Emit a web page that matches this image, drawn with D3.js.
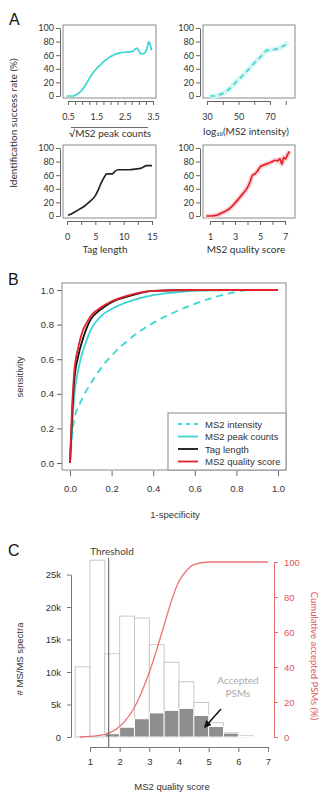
<!DOCTYPE html>
<html>
<head>
<meta charset="utf-8">
<script src="https://cdn.jsdelivr.net/npm/d3@7"></script>
<style>
  html, body { margin: 0; padding: 0; background: #fff; }
  svg { display: block; }
</style>
</head>
<body>
<div id="chart"></div>
<script>
// ---------- Panel A data ----------
const peakX = [0.45, 0.7, 0.8, 0.9, 1.0, 1.1, 1.2, 1.3, 1.4, 1.5, 1.6, 1.7, 1.8, 1.9, 2.0, 2.1, 2.2, 2.3, 2.4, 2.5, 2.6, 2.7, 2.8, 2.85, 2.9, 2.95, 3.0, 3.05, 3.1, 3.2, 3.25, 3.3, 3.35, 3.4, 3.45];
const peakY = [0, 0, 2, 5, 9, 15, 22, 29, 35, 40, 44, 48, 52, 55, 58, 60, 62, 63, 64, 64, 65, 65, 66, 68, 70, 70, 66, 63, 62, 63, 66, 72, 80, 75, 67];

const intensityX = [32, 35, 38, 41, 44, 47, 50, 53, 56, 59, 62, 65, 68, 71, 74, 76, 78, 80, 81];
const intensityY = [0, 0, 2, 5, 10, 17, 24, 31, 38, 46, 53, 60, 67, 68, 69, 70, 73, 76, 80];

const tagX = [0.2, 1, 2, 3, 4, 5, 5.5, 6, 6.5, 7, 7.5, 8, 8.5, 9, 10, 11, 12, 13, 13.5, 14, 15];
const tagY = [1, 4, 9, 14, 21, 30, 38, 48, 56, 62, 62, 62, 66, 68, 68, 68, 69, 70, 72, 74, 74];

const qualityX = [0.7, 1, 1.5, 2, 2.5, 3, 3.5, 4, 4.2, 4.4, 4.6, 4.8, 5, 5.3, 5.6, 6, 6.2, 6.4, 6.6, 6.75, 6.9, 7.05, 7.2, 7.35];
const qualityY = [0, 0, 1, 5, 10, 19, 30, 42, 50, 60, 62, 66, 72, 75, 77, 80, 82, 81, 84, 76, 86, 84, 90, 95];

const rateTicks = [0, 20, 40, 60, 80, 100];
const peakTicks = [0.5, 0.75, 1, 1.25, 1.5, 1.75, 2, 2.25, 2.5, 2.75, 3, 3.25, 3.5];
const peakLabels = [0.5, 1.5, 2.5, 3.5];
const intensityTicks = [30, 40, 50, 60, 70, 80];
const intensityLabels = [30, 50, 70];
const tagTicks = [0, 2.5, 5, 7.5, 10, 12.5, 15];
const tagLabels = [0, 5, 10, 15];
const qualityTicks = [1, 2, 3, 4, 5, 6, 7];
const qualityLabels = [1, 3, 5, 7];

// ---------- Panel B data (ROC) ----------
const rocNames = ['MS2 intensity', 'MS2 peak counts', 'Tag length', 'MS2 quality score'];
const rocIntensityFpr = [0, 0.01, 0.02, 0.05, 0.1, 0.15, 0.2, 0.3, 0.4, 0.5, 0.6, 0.7, 0.8, 0.9, 1];
const rocIntensityTpr = [0, 0.15, 0.25, 0.35, 0.46, 0.55, 0.62, 0.73, 0.81, 0.87, 0.92, 0.96, 0.99, 1, 1];
const rocPeakFpr = [0, 0.01, 0.02, 0.04, 0.06, 0.08, 0.1, 0.15, 0.2, 0.3, 0.4, 0.5, 0.6, 0.8, 1];
const rocPeakTpr = [0, 0.2, 0.38, 0.54, 0.64, 0.71, 0.77, 0.85, 0.89, 0.94, 0.97, 0.985, 0.995, 1, 1];
const rocTagFpr = [0, 0.01, 0.02, 0.04, 0.06, 0.08, 0.1, 0.15, 0.2, 0.3, 0.4, 0.6, 1];
const rocTagTpr = [0, 0.27, 0.47, 0.62, 0.71, 0.78, 0.83, 0.89, 0.93, 0.97, 0.995, 1, 1];
const rocQualFpr = [0, 0.01, 0.02, 0.04, 0.06, 0.08, 0.1, 0.15, 0.2, 0.3, 0.4, 0.6, 1];
const rocQualTpr = [0, 0.32, 0.52, 0.67, 0.76, 0.81, 0.85, 0.9, 0.935, 0.975, 0.995, 1, 1];
const rocTicks = [0, 0.2, 0.4, 0.6, 0.8, 1.0];

// ---------- Panel C data (histogram) ----------
const binStarts = [0.5, 1.0, 1.5, 2.0, 2.5, 3.0, 3.5, 4.0, 4.5, 5.0, 5.5, 6.0];
const allSpectra = [10800, 27200, 12800, 18600, 18300, 14200, 11500, 8500, 5300, 2200, 700, 200];
const acceptedSpectra = [0, 0, 500, 1500, 2800, 3700, 4100, 4400, 3300, 1600, 600, 100];
const cumScore = [0.65, 1, 1.5, 2, 2.5, 3, 3.25, 3.5, 3.75, 4, 4.25, 4.5, 5, 5.5, 7];
const cumPct = [0, 0.3, 1.5, 6, 17, 37, 50, 64, 78, 89, 95, 98.5, 100, 100, 100];
const countTicks = [0, 5000, 10000, 15000, 20000, 25000];
const countLabels = ['0', '5k', '10k', '15k', '20k', '25k'];
const pctTicks = [0, 20, 40, 60, 80, 100];
const scoreTicks = [1, 2, 3, 4, 5, 6, 7];
const threshold = 1.63;

const CYAN = '#3ad6d2';
const RED = '#e3222d';
const fontA = 'Lato, "Open Sans", sans-serif';
const fontB = '"Liberation Sans", Arial, sans-serif';

const svg = d3.select('#chart').append('svg')
  .attr('width', 323)
  .attr('height', 794);

function styleAxis(g, font, size, color) {
  g.select('.domain').attr('stroke', color);
  g.selectAll('.tick line').attr('stroke', color);
  g.selectAll('.tick text')
    .attr('fill', '#333')
    .style('font-family', font)
    .style('font-size', size + 'px');
}

function hasValue(arr, v) {
  return arr.some(a => Math.abs(a - v) < 1e-6);
}

// ---------- Panel A ----------
svg.append('text').attr('x', 9).attr('y', 25)
  .style('font-family', fontB).style('font-size', '16px').attr('fill', '#111').text('A');

svg.append('text')
  .attr('transform', 'translate(17,123) rotate(-90)')
  .attr('text-anchor', 'middle')
  .style('font-family', fontA).style('font-size', '10px').attr('fill', '#333')
  .text('Identification success rate (%)');

function smallPlot(p) {
  const g = svg.append('g');
  const x = d3.scaleLinear().domain(p.xDom).range(p.xRng);
  const y = d3.scaleLinear().domain([0, 100]).range(p.yRng);

  g.append('rect')
    .attr('x', p.box[0]).attr('y', p.box[1])
    .attr('width', p.box[2] - p.box[0]).attr('height', p.box[3] - p.box[1])
    .attr('fill', 'none').attr('stroke', '#8a8a8a');

  const ya = g.append('g')
    .attr('transform', `translate(${p.box[0] - 3},0)`)
    .call(d3.axisLeft(y).tickValues(rateTicks).tickSize(4).tickSizeOuter(0).tickPadding(2));
  styleAxis(ya, fontA, 9, '#666');

  const xa = g.append('g')
    .attr('transform', `translate(0,${p.box[3] + 3})`)
    .call(d3.axisBottom(x).tickValues(p.ticks).tickSize(4).tickSizeOuter(0).tickPadding(9)
      .tickFormat(d => String(d)));
  styleAxis(xa, fontA, 9, '#666');
  // only some ticks carry a label
  xa.selectAll('.tick').filter(d => !hasValue(p.labels, d)).select('text').remove();

  const pts = p.xs.map((v, i) => [v, p.ys[i]]);
  const line = d3.line().x(d => x(d[0])).y(d => y(d[1])).curve(d3.curveMonotoneX);

  if (p.band) {
    g.append('path').datum(pts).attr('d', line)
      .attr('fill', 'none').attr('stroke', p.band)
      .attr('stroke-width', 5).attr('stroke-linejoin', 'round');
  }
  g.append('path').datum(pts).attr('d', line)
    .attr('fill', 'none').attr('stroke', p.color)
    .attr('stroke-width', 1.7)
    .attr('stroke-dasharray', p.dash || null);

  g.append('text')
    .attr('x', p.title[0]).attr('y', p.title[1])
    .attr('text-anchor', 'middle')
    .style('font-family', fontA).style('font-size', '10px').attr('fill', '#333')
    .text(p.titleText);
  return g;
}

const tl = smallPlot({
  box: [63, 25, 156, 98], xDom: [0.5, 3.5], xRng: [68, 153], yRng: [96, 28],
  ticks: peakTicks, labels: peakLabels, xs: peakX, ys: peakY, color: CYAN,
  title: [110, 137], titleText: '\u221AMS2 peak counts'
});
// overline of the square root sign
tl.append('line').attr('x1', 71).attr('x2', 148).attr('y1', 127.5).attr('y2', 127.5)
  .attr('stroke', '#444').attr('stroke-width', 0.8);

smallPlot({
  box: [203, 25, 295, 98], xDom: [30, 70], xRng: [207, 270], yRng: [96, 28],
  ticks: intensityTicks, labels: intensityLabels, xs: intensityX, ys: intensityY,
  color: CYAN, band: '#d6f6f4', dash: '5,4',
  title: [246, 135], titleText: 'log\u2081\u2080(MS2 intensity)'
});

smallPlot({
  box: [63, 145, 156, 218], xDom: [0, 15], xRng: [67, 152], yRng: [216, 148],
  ticks: tagTicks, labels: tagLabels, xs: tagX, ys: tagY, color: '#222',
  title: [105, 253], titleText: 'Tag length'
});

smallPlot({
  box: [203, 145, 295, 218], xDom: [1, 7], xRng: [210, 285], yRng: [216, 148],
  ticks: qualityTicks, labels: qualityLabels, xs: qualityX, ys: qualityY,
  color: RED, band: '#fad0d4',
  title: [246, 253], titleText: 'MS2 quality score'
});

// ---------- Panel B ----------
svg.append('text').attr('x', 8).attr('y', 285)
  .style('font-family', fontB).style('font-size', '16px').attr('fill', '#111').text('B');

const bx = d3.scaleLinear().domain([0, 1]).range([70, 278]);
const by = d3.scaleLinear().domain([0, 1]).range([463, 290]);

svg.append('rect').attr('x', 62).attr('y', 283).attr('width', 224).attr('height', 187)
  .attr('fill', 'none').attr('stroke', '#8a8a8a');

const bya = svg.append('g').attr('transform', 'translate(62,0)')
  .call(d3.axisLeft(by).tickValues(rocTicks).tickSize(5).tickSizeOuter(0).tickPadding(3).tickFormat(d3.format('.1f')));
styleAxis(bya, fontB, 9.5, '#666');
bya.select('.domain').remove();

const bxa = svg.append('g').attr('transform', 'translate(0,471)')
  .call(d3.axisBottom(bx).tickValues(rocTicks).tickSize(5).tickSizeOuter(0).tickPadding(9).tickFormat(d3.format('.1f')));
styleAxis(bxa, fontB, 9.5, '#666');
bxa.select('.domain').remove();

svg.append('text').attr('transform', 'translate(23,377) rotate(-90)')
  .attr('text-anchor', 'middle')
  .style('font-family', fontB).style('font-size', '9.5px').attr('fill', '#333').text('sensitivity');
svg.append('text').attr('x', 175).attr('y', 518).attr('text-anchor', 'middle')
  .style('font-family', fontB).style('font-size', '9.5px').attr('fill', '#333').text('1-specificity');

const rocLine = d3.line().x(d => bx(d[0])).y(d => by(d[1])).curve(d3.curveMonotoneX);
const rocSeries = [
  { f: rocIntensityFpr, t: rocIntensityTpr, color: CYAN, dash: '7,5' },
  { f: rocPeakFpr, t: rocPeakTpr, color: CYAN, dash: null },
  { f: rocTagFpr, t: rocTagTpr, color: '#111', dash: null },
  { f: rocQualFpr, t: rocQualTpr, color: RED, dash: null }
];
rocSeries.forEach(s => {
  svg.append('path')
    .datum(s.f.map((v, i) => [v, s.t[i]]))
    .attr('d', rocLine)
    .attr('fill', 'none')
    .attr('stroke', s.color)
    .attr('stroke-width', 1.8)
    .attr('stroke-dasharray', s.dash);
});

// legend
const leg = svg.append('g');
leg.append('rect').attr('x', 168).attr('y', 413).attr('width', 118).attr('height', 57)
  .attr('fill', '#fff').attr('stroke', '#8a8a8a');
rocNames.forEach((name, i) => {
  const yy = 424 + i * 12.5;
  leg.append('line').attr('x1', 178).attr('x2', 198).attr('y1', yy).attr('y2', yy)
    .attr('stroke', rocSeries[i].color).attr('stroke-width', 1.8)
    .attr('stroke-dasharray', i === 0 ? '4,4' : null);
  leg.append('text').attr('x', 205).attr('y', yy + 3.5)
    .style('font-family', fontB).style('font-size', '9.5px').attr('fill', '#333').text(name);
});

// ---------- Panel C ----------
svg.append('text').attr('x', 8).attr('y', 556)
  .style('font-family', fontB).style('font-size', '16px').attr('fill', '#111').text('C');

const cx = d3.scaleLinear().domain([1, 7]).range([90, 268]);
const cy = d3.scaleLinear().domain([0, 25000]).range([737, 574.5]);
const cp = d3.scaleLinear().domain([0, 100]).range([737, 562]);
const binW = 0.5;

svg.append('g').selectAll('rect.all')
  .data(binStarts)
  .enter().append('rect')
  .attr('x', d => cx(d))
  .attr('y', (d, i) => cy(allSpectra[i]))
  .attr('width', cx(binW) - cx(0))
  .attr('height', (d, i) => cy(0) - cy(allSpectra[i]))
  .attr('fill', '#fff').attr('stroke', '#c4c4c4').attr('stroke-width', 0.9);

svg.append('g').selectAll('rect.acc')
  .data(binStarts)
  .enter().append('rect')
  .attr('x', d => cx(d))
  .attr('y', (d, i) => cy(acceptedSpectra[i]))
  .attr('width', cx(binW) - cx(0))
  .attr('height', (d, i) => cy(0) - cy(acceptedSpectra[i]))
  .attr('fill', '#8e8e8e').attr('stroke', '#fff').attr('stroke-width', 0.9);

// cumulative curve
svg.append('path')
  .datum(cumScore.map((v, i) => [v, cumPct[i]]))
  .attr('d', d3.line().x(d => cx(d[0])).y(d => cp(d[1])).curve(d3.curveMonotoneX))
  .attr('fill', 'none').attr('stroke', '#ec7474').attr('stroke-width', 1.3);

// threshold
svg.append('line').attr('x1', cx(threshold)).attr('x2', cx(threshold))
  .attr('y1', 558).attr('y2', 747).attr('stroke', '#555').attr('stroke-width', 1);
svg.append('text').attr('x', 112).attr('y', 555).attr('text-anchor', 'middle')
  .style('font-family', fontA).style('font-size', '10px').attr('fill', '#444').text('Threshold');

// axes
const cya = svg.append('g').attr('transform', 'translate(71,0)')
  .call(d3.axisLeft(cy).tickValues(countTicks).tickSize(4).tickSizeOuter(0).tickPadding(6)
    .tickFormat((d, i) => countLabels[i]));
styleAxis(cya, fontB, 9.5, '#777');

const cpa = svg.append('g').attr('transform', 'translate(274,0)')
  .call(d3.axisRight(cp).tickValues(pctTicks).tickSize(4).tickSizeOuter(0).tickPadding(6));
styleAxis(cpa, fontB, 9.5, '#e06a6a');
cpa.selectAll('.tick text').attr('fill', '#e05555');

const cxa = svg.append('g').attr('transform', 'translate(0,747)')
  .call(d3.axisBottom(cx).tickValues(scoreTicks).tickSize(5).tickSizeOuter(0).tickPadding(6)
    .tickFormat(d3.format('d')));
styleAxis(cxa, fontB, 9.5, '#777');

svg.append('text').attr('transform', 'translate(23,659) rotate(-90)')
  .attr('text-anchor', 'middle')
  .style('font-family', fontB).style('font-size', '9.5px').attr('fill', '#333').text('# MS/MS spectra');
svg.append('text').attr('transform', 'translate(311,656) rotate(90)')
  .attr('text-anchor', 'middle')
  .style('font-family', fontA).style('font-size', '9.5px').attr('fill', '#e05555').text('Cumulative accepted PSMs (%)');
svg.append('text').attr('x', 172).attr('y', 790).attr('text-anchor', 'middle')
  .style('font-family', fontB).style('font-size', '9.5px').attr('fill', '#333').text('MS2 quality score');

// annotation
svg.append('text').attr('x', 238).attr('y', 684).attr('text-anchor', 'middle')
  .style('font-family', fontA).style('font-size', '10px').attr('fill', '#aaa').text('Accepted');
svg.append('text').attr('x', 238).attr('y', 697).attr('text-anchor', 'middle')
  .style('font-family', fontA).style('font-size', '10px').attr('fill', '#aaa').text('PSMs');

svg.append('defs').append('marker')
  .attr('id', 'arrow').attr('viewBox', '0 0 10 10').attr('refX', 8).attr('refY', 5)
  .attr('markerWidth', 5).attr('markerHeight', 5).attr('orient', 'auto')
  .append('path').attr('d', 'M0,0 L10,5 L0,10 z').attr('fill', '#111');
svg.append('line').attr('x1', 221).attr('y1', 709).attr('x2', 205).attr('y2', 727)
  .attr('stroke', '#111').attr('stroke-width', 1.5).attr('marker-end', 'url(#arrow)');
</script>
</body>
</html>
